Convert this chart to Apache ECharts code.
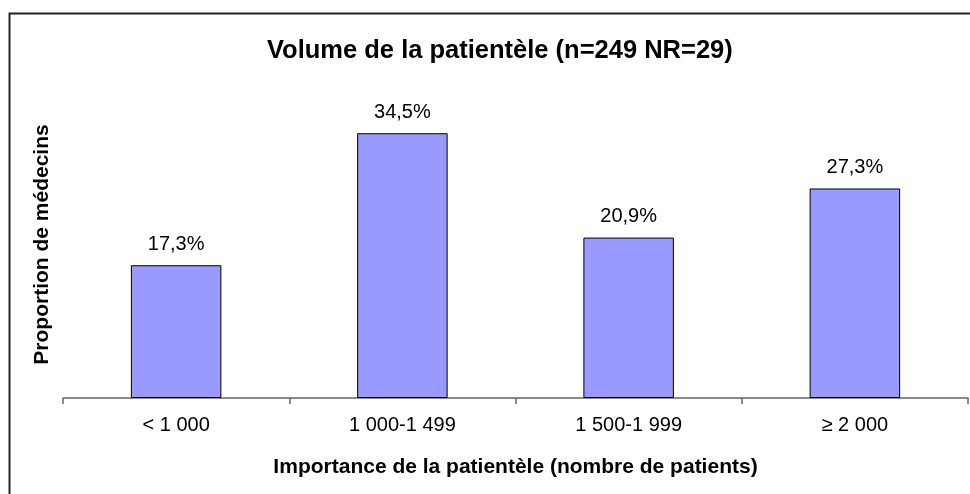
<!DOCTYPE html>
<html lang="fr">
<head>
    <meta charset="UTF-8">
    <title>Volume de la patientèle</title>
    <style>
        html, body { margin: 0; padding: 0; background: #fff; }
        #chart { width: 970px; height: 494px; }
    </style>
</head>
<body>
<div id="chart"></div>
<script src="https://cdn.jsdelivr.net/npm/echarts@6/dist/echarts.min.js"></script>
<script>
    var categories = ['< 1 000', '1 000-1 499', '1 500-1 999', '\u2265 2 000'];
    var proportions = [17.3, 34.5, 20.9, 27.3];

    var fontFamily = '"Liberation Sans", Arial, sans-serif';
    var chart = echarts.init(document.getElementById('chart'));

    var option = {
        backgroundColor: '#fff',
        animation: false,
        title: {
            text: 'Volume de la patientèle (n=249 NR=29)',
            left: 262,
            top: 33,
            textStyle: {
                fontFamily: fontFamily,
                fontSize: 25.5,
                fontWeight: 'bold',
                color: '#000'
            }
        },
        graphic: [
            {
                type: 'rect',
                left: 7,
                top: 11,
                shape: { width: 1000, height: 1000 },
                style: { fill: 'none', stroke: '#222', lineWidth: 2 },
                silent: true
            }
        ],
        grid: {
            left: 63,
            right: 2,
            top: 91,
            bottom: 96
        },
        xAxis: {
            type: 'category',
            data: categories,
            name: 'Importance de la patientèle (nombre de patients)',
            nameLocation: 'middle',
            nameGap: 59,
            nameTextStyle: {
                fontFamily: fontFamily,
                fontSize: 21,
                fontWeight: 'bold',
                color: '#000'
            },
            axisLine: { lineStyle: { color: '#666', width: 1.5 } },
            axisTick: {
                show: true,
                interval: 0,
                alignWithLabel: false,
                length: 6,
                lineStyle: { color: '#666', width: 1.5 }
            },
            axisLabel: {
                margin: 17,
                fontFamily: fontFamily,
                fontSize: 20,
                color: '#000'
            }
        },
        yAxis: {
            type: 'value',
            min: 0,
            max: 40,
            name: 'Proportion de médecins',
            nameLocation: 'middle',
            nameRotate: 90,
            nameGap: 10,
            nameTextStyle: {
                fontFamily: fontFamily,
                fontSize: 21,
                fontWeight: 'bold',
                color: '#000'
            },
            axisLine: { show: false },
            axisTick: { show: false },
            axisLabel: { show: false },
            splitLine: { show: false }
        },
        series: [
            {
                type: 'bar',
                data: proportions,
                barWidth: '40%',
                itemStyle: {
                    color: '#9999FF',
                    borderColor: '#000',
                    borderWidth: 1
                },
                label: {
                    show: true,
                    position: 'top',
                    distance: 11,
                    fontFamily: fontFamily,
                    fontSize: 20,
                    color: '#000',
                    formatter: function (p) {
                        return p.value.toFixed(1).replace('.', ',') + '%';
                    }
                }
            }
        ]
    };

    chart.setOption(option);
</script>
</body>
</html>
